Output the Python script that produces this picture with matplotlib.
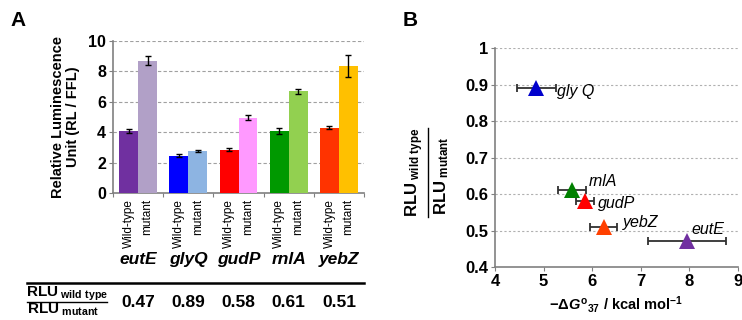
import matplotlib
matplotlib.use("Agg")
import matplotlib.pyplot as plt
from matplotlib.lines import Line2D
import numpy as np

plt.rcParams['font.family'] = ['Liberation Sans', 'DejaVu Sans']
plt.rcParams['mathtext.fontset'] = 'custom'
plt.rcParams['mathtext.rm'] = 'Liberation Sans:bold'
plt.rcParams['mathtext.bf'] = 'Liberation Sans:bold'
plt.rcParams['mathtext.it'] = 'Liberation Sans:bold:italic'

# panel A data
genes = ['eutE', 'glyQ', 'gudP', 'rnlA', 'yebZ']
wt_vals = [4.1, 2.45, 2.85, 4.05, 4.3]
wt_err = [0.12, 0.1, 0.08, 0.2, 0.08]
mut_vals = [8.7, 2.75, 4.95, 6.7, 8.35]
mut_err = [0.3, 0.05, 0.18, 0.17, 0.7]
wt_colors = ['#7030A0', '#0000FF', '#FF0000', '#009900', '#FF3300']
mut_colors = ['#B1A0C7', '#8DB4E2', '#FF99FF', '#92D050', '#FFC000']
ratios = ['0.47', '0.89', '0.58', '0.61', '0.51']

# panel B data
dg = [7.95, 4.85, 5.85, 5.58, 6.24]
dg_err = [0.8, 0.4, 0.18, 0.29, 0.28]
ratio_vals = [0.47, 0.89, 0.58, 0.61, 0.51]
pt_colors = ['#7030A0', '#0000CC', '#FF0000', '#008000', '#FF4000']
pt_labels = ['eutE', 'gly Q', 'gudP', 'rnlA', 'yebZ']
lab_pos = [(8.05, 0.502), (5.27, 0.882), (6.12, 0.573), (5.92, 0.633), (6.64, 0.523)]

W, H = 742, 320
fig = plt.figure(figsize=(W / 100, H / 100), dpi=100)
fig.patch.set_facecolor('white')


def fx(px):
    return px / W


def fy(py):
    return 1 - py / H


# ---- panel A ----
axA = fig.add_axes([fx(113), fy(193), fx(364 - 113), (193 - 41) / H])
x = np.arange(len(genes))
w = 0.376
axA.bar(x - w / 2, wt_vals, w, color=wt_colors, yerr=wt_err,
        error_kw=dict(ecolor='black', elinewidth=1, capsize=2.5, capthick=1), zorder=3)
axA.bar(x + w / 2, mut_vals, w, color=mut_colors, yerr=mut_err,
        error_kw=dict(ecolor='black', elinewidth=1, capsize=2.5, capthick=1), zorder=3)
axA.set_xlim(-0.47, 4.47)
axA.set_ylim(0, 10)
axA.set_yticks([0, 2, 4, 6, 8, 10])
for t in [2, 4, 6, 8, 10]:
    axA.axhline(t, color='#a0a0a0', ls=(0, (3, 2)), lw=0.8, zorder=1)
axA.set_xticks(np.arange(-0.5, 5, 1))
axA.set_xticklabels([])
axA.tick_params(axis='x', length=3, color='#808080')
axA.tick_params(axis='y', length=3, color='#808080', labelsize=11.5, pad=2)
for lab in axA.get_yticklabels():
    lab.set_fontweight('bold')
for s in ['top', 'right']:
    axA.spines[s].set_visible(False)
for s in ['left', 'bottom']:
    axA.spines[s].set_color('#808080')
    axA.spines[s].set_linewidth(1.2)
axA.set_ylabel('Relative Luminescence\nUnit (RL / FFL)', fontsize=10.5,
               fontweight='bold', labelpad=6, linespacing=1.1)

trans = axA.get_xaxis_transform()
for i, g in enumerate(genes):
    axA.text(i - w / 2, -0.04, 'Wild-type', rotation=90, ha='center', va='top',
             fontsize=8.5, transform=trans)
    axA.text(i + w / 2, -0.04, 'mutant', rotation=90, ha='center', va='top',
             fontsize=8.5, transform=trans)
    axA.text(i, -0.44, g, ha='center', va='center', fontsize=12.5,
             fontweight='bold', style='italic', transform=trans)
    axA.text(i, -0.72, ratios[i], ha='center', va='center', fontsize=12.5,
             fontweight='bold', transform=trans)

fig.add_artist(Line2D([fx(27), fx(364)], [fy(283), fy(283)], color='black', lw=1.8))
fig.add_artist(Line2D([fx(27), fx(107)], [fy(302), fy(302)], color='black', lw=1.0))
fig.text(fx(67), fy(294), r'$\mathrm{RLU}_{\ \mathrm{wild\ type}}$', ha='center',
         va='center', fontsize=11)
fig.text(fx(63), fy(310), r'$\mathrm{RLU}_{\ \mathrm{mutant}}$', ha='center',
         va='center', fontsize=11)
fig.text(fx(10), fy(20), 'A', fontsize=15, fontweight='bold', va='center')

# ---- panel B ----
axB = fig.add_axes([fx(495), fy(267), fx(738 - 495), (267 - 48) / H])
for t in [0.5, 0.6, 0.7, 0.8, 0.9, 1.0]:
    axB.axhline(t, color='#b0b0b0', ls=(0, (2, 2)), lw=0.8, zorder=1)
for i in range(len(dg)):
    axB.errorbar(dg[i], ratio_vals[i], xerr=dg_err[i], fmt='none', ecolor='#303030',
                 elinewidth=1.3, capsize=3, capthick=1.3, zorder=3)
    axB.plot(dg[i], ratio_vals[i], marker='^', ms=12, color=pt_colors[i],
             markeredgewidth=0, ls='none', zorder=4)
    axB.text(lab_pos[i][0], lab_pos[i][1], pt_labels[i], fontsize=11.5,
             style='italic', ha='left', va='center')
axB.set_xlim(4, 9)
axB.set_ylim(0.4, 1.0)
axB.set_xticks([4, 5, 6, 7, 8, 9])
axB.set_yticks([0.4, 0.5, 0.6, 0.7, 0.8, 0.9, 1.0])
axB.set_yticklabels(['0.4', '0.5', '0.6', '0.7', '0.8', '0.9', '1'])
axB.tick_params(length=3, color='#808080', labelsize=12, pad=2)
for lab in axB.get_xticklabels() + axB.get_yticklabels():
    lab.set_fontweight('bold')
for s in ['top', 'right']:
    axB.spines[s].set_visible(False)
for s in ['left', 'bottom']:
    axB.spines[s].set_color('#808080')
    axB.spines[s].set_linewidth(1.2)
axB.set_xlabel(r'$-\Delta \mathit{G}^{\mathrm{o}}{}_{37}$ / kcal mol$^{\mathrm{-1}}$',
               fontsize=10.5, fontweight='bold', labelpad=4)

fig.add_artist(Line2D([fx(428), fx(428)], [fy(128), fy(217)], color='black', lw=1.0))
fig.text(fx(415), fy(172), r'$\mathrm{RLU}_{\ \mathrm{wild\ type}}$', rotation=90,
         ha='center', va='center', fontsize=12)
fig.text(fx(442), fy(176), r'$\mathrm{RLU}_{\ \mathrm{mutant}}$', rotation=90,
         ha='center', va='center', fontsize=12)
fig.text(fx(403), fy(20), 'B', fontsize=15, fontweight='bold', va='center')

fig.savefig('out.png', dpi=100)
